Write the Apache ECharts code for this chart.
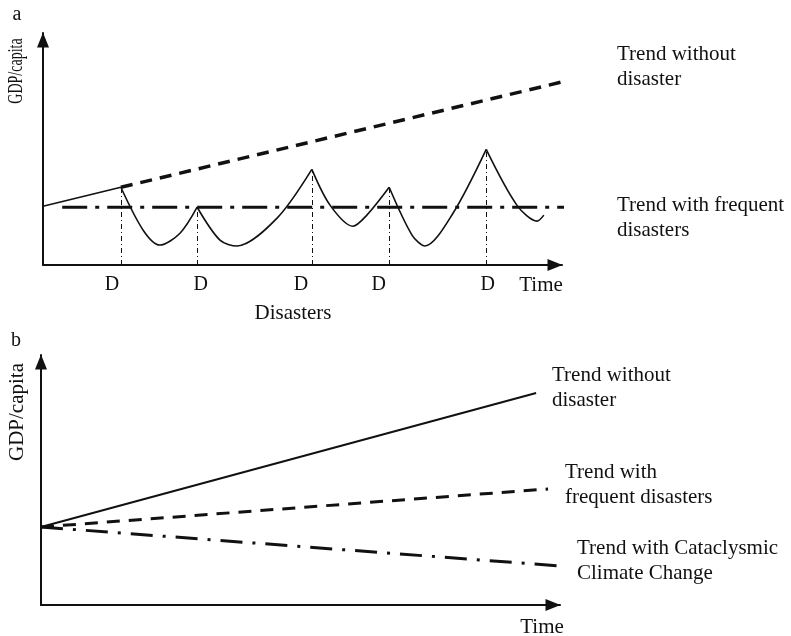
<!DOCTYPE html>
<html>
<head>
<meta charset="utf-8">
<script src="https://cdn.jsdelivr.net/npm/echarts@6/dist/echarts.min.js"></script>
<style>
  html, body { margin: 0; padding: 0; background: #fff; }
  #chart { width: 791px; height: 636px; }
</style>
</head>
<body>
<div id="chart"></div>
<script>
// panel a: time / GDP in arbitrary units (0..100 along each axis)
// each segment runs from one disaster peak, through the trough, to the next peak
const curveA = [
  [[0, 25.3], [15.0, 33.5]],
  [[15.0, 33.5], [19.3, 15.0], [22.5, 8.6], [26.4, 13.7], [29.7, 24.9]],
  [[29.7, 24.9], [34.1, 10.7], [37.4, 8.2], [45.1, 20.2], [51.8, 41.2]],
  [[51.8, 41.2], [55.3, 25.8], [59.7, 16.7], [62.4, 21.5], [66.7, 33.5]],
  [[66.7, 33.5], [71.1, 12.9], [73.6, 8.2], [79.0, 22.3], [85.4, 49.8]],
  [[85.4, 49.8], [91.3, 25.8], [95.2, 18.9], [96.5, 21.5]]
]
const disasterTime = [15.0, 29.7, 51.8, 66.7, 85.4]
const disasterPeak = [33.5, 24.9, 41.2, 33.5, 49.8]
const disasterLabelX = [13.3, 30.4, 49.7, 64.7, 85.7]
const trendNoDisasterA = [[15.0, 33.5], [107.3, 82.8]]
const trendFrequentA = [[3.7, 24.9], [107.3, 24.9]]

// panel b
const trendNoDisasterB = [[0, 31.2], [95.4, 84.8]]
const trendFrequentB = [[0, 31.2], [97.7, 46.4]]
const trendCataclysmB = [[0, 31.2], [100, 15.6]]

const ink = '#111'
const font = "'Liberation Serif', 'Times New Roman', serif"

const chart = echarts.init(document.getElementById('chart'))

const axisLine = {
  show: true,
  symbol: ['none', 'triangle'],
  symbolSize: [12, 15],
  symbolOffset: [0, -7],
  lineStyle: { color: ink, width: 2 }
}

const makeX = (gridIndex, labels) => ({
  type: 'value',
  gridIndex: gridIndex,
  min: 0,
  max: 100,
  axisLine: axisLine,
  axisTick: { show: false },
  splitLine: { show: false },
  axisLabel: labels ? {
    show: true,
    customValues: labels,
    formatter: () => 'D',
    color: ink,
    fontFamily: font,
    fontSize: 20,
    margin: 10
  } : { show: false }
})

const makeY = (gridIndex) => ({
  type: 'value',
  gridIndex: gridIndex,
  min: 0,
  max: 100,
  axisLine: axisLine,
  axisTick: { show: false },
  splitLine: { show: false },
  axisLabel: { show: false }
})

const lineSeries = (data, idx, type, width, extra) => Object.assign({
  type: 'line',
  xAxisIndex: idx,
  yAxisIndex: idx,
  data: data,
  symbol: 'none',
  clip: false,
  silent: true,
  lineStyle: { color: ink, width: width, type: type, cap: 'butt' }
}, extra || {})

const series = []

curveA.forEach((seg, i) => {
  series.push(lineSeries(seg, 0, 'solid', 1.6, { smooth: i === 0 ? false : 0.3 }))
})

series.push(lineSeries(trendNoDisasterA, 0, [12, 8], 3.5))
series.push(lineSeries(trendFrequentA, 0, [25, 8, 4, 8], 3))

// drop lines from each disaster peak to the time axis
series.push({
  type: 'line',
  xAxisIndex: 0,
  yAxisIndex: 0,
  symbol: 'none',
  silent: true,
  lineStyle: { width: 0 },
  data: [],
  markLine: {
    silent: true,
    symbol: ['none', 'none'],
    label: { show: false },
    lineStyle: { color: ink, width: 1, type: [5, 3, 1, 3] },
    data: disasterTime.map((t, i) => [{ coord: [t, 0] }, { coord: [t, disasterPeak[i]] }])
  }
})

series.push(lineSeries(trendNoDisasterB, 1, 'solid', 2))
series.push(lineSeries(trendFrequentB, 1, [13, 9], 3))
series.push(lineSeries(trendCataclysmB, 1, [22, 10, 3, 10], 3))

const txt = (text, x, y, align, size, extra) => ({
  type: 'text',
  x: x,
  y: y,
  silent: true,
  style: Object.assign({
    text: text,
    fill: ink,
    font: size + 'px ' + font,
    textAlign: align,
    textVerticalAlign: 'middle',
    lineHeight: 25
  }, extra || {})
})

const rotated = (text, x, y, size, sx) => ({
  type: 'text',
  x: x,
  y: y,
  rotation: Math.PI / 2,
  scaleX: sx,
  silent: true,
  style: {
    text: text,
    fill: ink,
    font: size + 'px ' + font,
    textAlign: 'center',
    textVerticalAlign: 'middle'
  }
})

chart.setOption({
  animation: false,
  backgroundColor: '#fff',
  grid: [
    { left: 43, top: 33, width: 519, height: 232, containLabel: false, outerBoundsMode: 'none' },
    { left: 41, top: 355, width: 519, height: 250, containLabel: false, outerBoundsMode: 'none' }
  ],
  xAxis: [makeX(0, disasterLabelX), makeX(1, null)],
  yAxis: [makeY(0), makeY(1)],
  series: series,
  graphic: [
    txt('a', 17, 15, 'center', 20),
    txt('b', 16, 341, 'center', 20),
    rotated('GDP/capita', 17, 71, 20, 0.7),
    rotated('GDP/capita', 17, 412, 21, 1),
    txt('Time', 541, 285, 'center', 21),
    txt('Disasters', 293, 313, 'center', 21),
    txt('Trend without\ndisaster', 617, 67, 'left', 21),
    txt('Trend with frequent\ndisasters', 617, 218, 'left', 21),
    txt('Trend without\ndisaster', 552, 388, 'left', 21),
    txt('Trend with\nfrequent disasters', 565, 485, 'left', 21),
    txt('Trend with Cataclysmic\nClimate Change', 577, 561, 'left', 21),
    txt('Time', 542, 627, 'center', 21)
  ]
})
</script>
</body>
</html>
